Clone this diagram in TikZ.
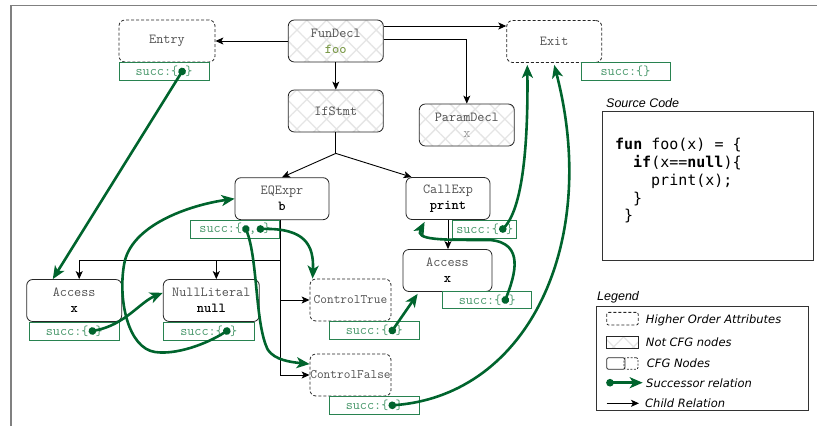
\documentclass[tikz,border=0pt]{standalone}
\usepackage{fontspec}
\setmainfont{Liberation Sans}
\newcommand{\cour}{\ttfamily}
\newfontfamily\codef{DejaVu Sans Mono}
\newfontfamily\legf{DejaVu Sans}
\usetikzlibrary{arrows.meta,calc,patterns.meta}
\definecolor{arrowgreen}{RGB}{0,100,45}
\definecolor{succline}{RGB}{40,130,80}
\definecolor{succtext}{RGB}{70,150,105}
\definecolor{labelgray}{RGB}{80,80,80}
\definecolor{foocol}{RGB}{125,155,75}
\definecolor{framegray}{RGB}{128,128,128}
\tikzset{
  hatch/.style={preaction={fill=white},
    preaction={pattern={Lines[angle=45,distance=14pt,line width=1.3pt]},pattern color=black!10},
    preaction={pattern={Lines[angle=-45,distance=14pt,line width=1.3pt]},pattern color=black!10}},
  nbase/.style={rounded corners=6pt, line width=0.8pt, inner sep=0pt, align=center,
    font=\cour\fontsize{13.8}{16}\selectfont, text=labelgray},
  cfgn/.style={nbase, draw=black!85},
  hoan/.style={nbase, draw=black!85, dash pattern=on 3pt off 2pt},
  ncfgn/.style={nbase, draw=black!85, hatch},
  succbox/.style={draw=succline, line width=0.8pt, inner sep=0pt, minimum height=18pt,
    font=\cour\fontsize{13.8}{14}\selectfont, text=succtext},
  child/.style={draw=black, line width=0.9pt, -{Stealth[length=8pt,width=7pt,inset=2pt]}},
  trunk/.style={draw=black, line width=0.9pt},
  sarrow/.style={draw=arrowgreen, line width=2.6pt,
    {Circle[length=7.5pt]}-{Stealth[length=13pt,width=11pt,inset=3.5pt]}, shorten <=-3.75pt},
  codeline/.style={anchor=base west, inner sep=0pt, font=\codef\fontsize{15}{18}\selectfont},
  legtext/.style={anchor=base west, inner sep=0pt, font=\legf\itshape\fontsize{11.5}{13}\selectfont},
  captext/.style={anchor=base west, inner sep=0pt, font=\itshape\fontsize{12.5}{14}\selectfont},
}
\newcommand{\ph}{\phantom{0}}
\begin{document}
\begin{tikzpicture}[x=1pt,y=-1pt]
\useasboundingbox (0,0) rectangle (817,426);
% frame
\draw[framegray, line width=1.8pt] (11,426) -- (11,5.5) -- (817,5.5);

% nodes
\node[hoan, minimum width=96pt, minimum height=42pt] (entry) at (167,41) {Entry};
\node[succbox, minimum width=90pt] (sEntry) at (164,71.5) {succ:\{\ph\}};
\node[ncfgn, minimum width=95pt, minimum height=42pt] (fundecl) at (335.8,41) {FunDecl\\\textcolor{foocol}{\bfseries foo}};
\node[hoan, minimum width=95pt, minimum height=42pt] (exit) at (554.2,41.5) {Exit};
\node[succbox, minimum width=89pt] (sExit) at (625.5,71.7) {succ:\{\}};
\node[ncfgn, minimum width=95pt, minimum height=42pt] (ifstmt) at (335.8,111) {IfStmt};
\node[ncfgn, minimum width=95pt, minimum height=42pt] (param) at (466.8,125) {ParamDecl\\\textcolor{black!40}{x}};
\node[cfgn, minimum width=94pt, minimum height=42pt] (eq) at (282,198.7) {EQExpr\\\textcolor{black}{\bfseries b}};
\node[succbox, minimum width=89pt] (sEq) at (235,229) {succ:\{\ph,\ph\}};
\node[cfgn, minimum width=84pt, minimum height=42pt] (call) at (448,198.5) {CallExp\\\textcolor{black}{\bfseries print}};
\node[succbox, minimum width=64pt] (sCall) at (484.7,229) {succ:\{\ph\}};
\node[cfgn, minimum width=89pt, minimum height=42pt] (accR) at (447.5,270.5) {Access\\\textcolor{black}{\bfseries x}};
\node[succbox, minimum width=89pt, minimum height=17pt] (sAccR) at (487.2,300) {succ:\{\ph\}};
\node[cfgn, minimum width=95pt, minimum height=42pt] (accL) at (74.2,300.5) {Access\\\textcolor{black}{\bfseries x}};
\node[succbox, minimum width=90pt] (sAccL) at (74.3,331) {succ:\{\ph\}};
\node[cfgn, minimum width=96pt, minimum height=42pt] (nullL) at (211.3,300.5) {NullLiteral\\\textcolor{black}{\bfseries null}};
\node[succbox, minimum width=91pt] (sNull) at (208.7,331) {succ:\{\ph\}};
\node[hoan, minimum width=81pt, minimum height=42pt, font=\cour\fontsize{13}{14}\selectfont] (ctrue) at (350.5,300) {ControlTrue};
\node[succbox, minimum width=90pt] (sTrue) at (374.2,330.5) {succ:\{\ph\}};
\node[hoan, minimum width=81pt, minimum height=42pt, font=\cour\fontsize{13}{14}\selectfont] (cfalse) at (350.5,375) {ControlFalse};
\node[succbox, minimum width=90pt] (sFalse) at (374.2,405.3) {succ:\{\ph\}};

% child relations
\draw[child] (fundecl.west) -- (entry.east);
\draw[child] ([yshift=15pt]fundecl.east) -- ([yshift=15pt]fundecl.east -| exit.west);
\draw[child] ([yshift=2pt]fundecl.east) -| (param.north);
\draw[child] (fundecl.south) -- (ifstmt.north);
\coordinate (j1) at ($(ifstmt.south)+(0,21)$);
\draw[trunk] (ifstmt.south) -- (j1);
\draw[child] (j1) -- (eq.north);
\draw[child] (j1) -- ($(call.north west)+(6,0)$);
\coordinate (bus) at ($(eq.south)+(-2,40)$);
\draw[trunk] ([xshift=-2pt]eq.south) -- ([xshift=-2pt]eq.south |- cfalse.west);
\draw[child] (bus) -| ([xshift=5pt]accL.north);
\draw[child] ([xshift=5pt]nullL.north |- bus) -- ([xshift=5pt]nullL.north);
\draw[child] (bus |- ctrue.west) -- (ctrue.west);
\draw[child] (bus |- cfalse.west) -- (cfalse.west);
\draw[child] (call.south) -- (call.south |- accR.north);

% successor relations
\coordinate (dEntry) at ($(sEntry.center)+(18.1,0)$);
\coordinate (dAccL) at ($(sAccL.center)+(18.1,0)$);
\coordinate (dNull) at ($(sNull.center)+(18.1,0)$);
\coordinate (dEq1) at ($(sEq.center)+(10.9,0)$);
\coordinate (dEq2) at ($(sEq.center)+(25.4,0)$);
\coordinate (dCall) at ($(sCall.center)+(18.1,0)$);
\coordinate (dAccR) at ($(sAccR.center)+(18.1,0)$);
\coordinate (dTrue) at ($(sTrue.center)+(18.1,0)$);
\coordinate (dFalse) at ($(sFalse.center)+(18.1,0)$);

\draw[sarrow] (dEntry) -- (accL.135);
\draw[sarrow] (dAccL) .. controls (125,325) and (140,302) .. (nullL.171);
\draw[sarrow] (dNull) .. controls (205,345) and (175,355) .. (155,352)
   .. controls (128,348) and (118,300) .. (124,265)
   .. controls (130,225) and (190,205) .. (eq.west);
\draw[sarrow] (dEq1) .. controls (258,260) and (255,325) .. (268,350)
   .. controls (275,360) and (290,362) .. (cfalse.165);
\draw[sarrow] (dEq2) .. controls (305,228) and (314,245) .. ($(ctrue.north west)+(3,0)$);
\draw[sarrow] (dTrue) -- ($(accR.south west)+(15,2)$);
\draw[sarrow] (dAccR) .. controls (515,275) and (525,243) .. (490,240)
   .. controls (440,240) and (415,240) .. ($(call.south west)+(19,2)$);
\draw[sarrow] (dCall) .. controls (525,205) and (528,130) .. ($(exit.south west)+(21,2)$);
\draw[sarrow] (dFalse) .. controls (530,395) and (600,240) .. ($(exit.south)+(0,2)$);

% source code
\node[captext] (srccap) at (606,107) {Source Code};
\node[draw=black!80, line width=0.8pt, minimum width=211pt, minimum height=149pt, inner sep=0pt, anchor=north west] (srcbox) at (601.7,111) {};
\node[codeline] (c1) at (615,149.5) {\textbf{fun} foo(x) = \{};
\node[codeline] (c2) at (633,167.5) {\textbf{if}(x==\textbf{null})\{};
\node[codeline] (c3) at (651,185.5) {print(x);};
\node[codeline] (c4) at (633,203) {\}};
\node[codeline] (c5) at (624,220.5) {\}};

% legend
\node[captext] (legcap) at (597,300.5) {Legend};
\node[draw=black!80, line width=0.8pt, minimum width=212pt, minimum height=104pt, inner sep=0pt, anchor=north west] (legbox) at (596,306) {};
\node[draw=black!85, line width=0.8pt, dash pattern=on 3pt off 2pt, rounded corners=2pt, minimum width=31.5pt, minimum height=12.7pt, inner sep=0pt] (lg1) at (622.5,318.7) {};
\node[legtext] (lt1) at (645.7,323) {Higher Order Attributes};
\node[draw=black!85, line width=0.8pt, hatch, minimum width=31.5pt, minimum height=12.3pt, inner sep=0pt] (lg2) at (622.5,342.2) {};
\node[legtext] (lt2) at (645.7,346) {Not CFG nodes};
\node[draw=black!85, line width=0.8pt, rounded corners=2pt, minimum width=18.3pt, minimum height=11.6pt, inner sep=0pt] (lg3a) at (615.8,363.5) {};
\node[draw=black!85, line width=0.8pt, dash pattern=on 2pt off 1.5pt, rounded corners=2pt, minimum width=14pt, minimum height=11.6pt, inner sep=0pt] (lg3b) at (631,363.5) {};
\node[legtext] (lt3) at (646.7,367) {CFG Nodes};
\coordinate (l4a) at (610,382.7);
\coordinate (l4b) at (642.7,382.7);
\draw[sarrow] (l4a) -- (l4b);
\node[legtext] (lt4) at (646,387) {Successor relation};
\coordinate (l5a) at (606.7,403.3);
\coordinate (l5b) at (639,403.3);
\draw[child] (l5a) -- (l5b);
\node[legtext] (lt5) at (645,407.5) {Child Relation};
\end{tikzpicture}
\end{document}
